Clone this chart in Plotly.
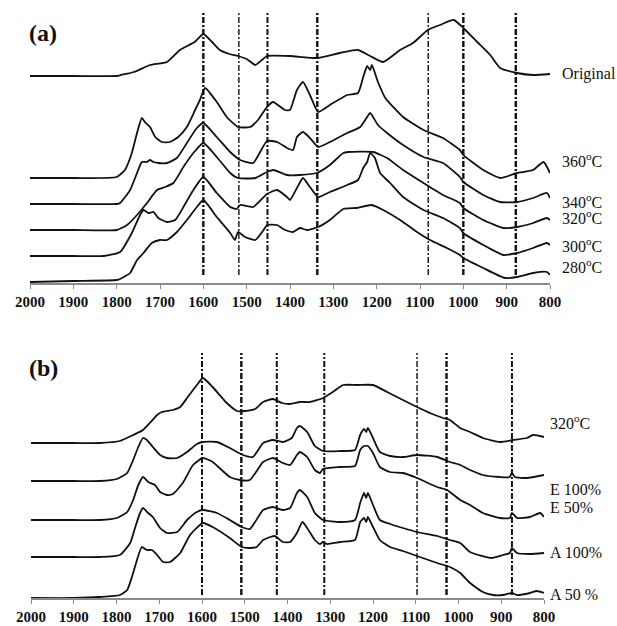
import plotly.graph_objects as go

# ---------------- data: panel (a) ----------------
W_orig = [2000,1900,1800,1790,1760,1723,1684,1654,1620,1600,1580,1562,1540,1520,1500,1480,1465,1453,1400,1338,1285,1243,1215,1185,1146,1116,1082,1054,1022,1000,968,938,915,876,839,800]
H_orig = [0,0,0,1,4,11,14,26,34,42,34,26,22,20,17,11,16,20,20,18,23,26,20,14,26,33,46,51,56,48,34,21,8,3,1,2]

W_360 = [2000,1900,1800,1781,1765,1753,1742,1735,1723,1711,1696,1677,1658,1638,1619,1608,1596,1569,1546,1520,1492,1474,1453,1439,1412,1400,1384,1370,1354,1335,1308,1268,1243,1231,1222,1215,1211,1197,1180,1139,1092,1047,1008,1000,954,915,876,839,815,800]
H_360 = [0,0,1,8,25,45,60,56,51,41,36,36,41,51,68,78,90,76,61,51,51,58,71,76,68,68,88,96,83,66,73,83,85,101,112,108,113,96,80,61,48,40,28,23,8,0,5,8,16,5]

W_340 = [2000,1900,1800,1792,1769,1753,1742,1730,1723,1715,1704,1684,1661,1638,1615,1600,1569,1538,1515,1485,1453,1430,1407,1393,1384,1370,1354,1335,1308,1268,1238,1222,1215,1197,1176,1139,1092,1047,1008,1000,954,915,876,839,807,800]
H_340 = [0,0,0,1,14,31,42,42,44,42,41,41,46,61,76,81,67,52,44,41,63,62,56,54,67,72,66,57,62,71,77,87,91,79,71,59,47,41,27,22,9,2,2,6,11,6]

W_320 = [2000,1900,1800,1776,1753,1730,1707,1688,1669,1646,1623,1600,1569,1538,1520,1480,1453,1438,1407,1377,1338,1308,1277,1266,1208,1176,1139,1092,1047,1008,1000,954,908,876,839,807,800]
H_320 = [0,0,0,5,15,27,40,43,47,63,77,87,73,57,52,52,58,60,55,55,57,65,77,78,78,72,60,47,35,27,22,10,2,3,7,12,10]

W_300 = [2000,1900,1830,1792,1765,1746,1738,1727,1715,1704,1684,1665,1646,1623,1600,1569,1538,1523,1515,1485,1453,1430,1407,1400,1384,1370,1354,1335,1308,1268,1243,1231,1222,1215,1204,1192,1169,1139,1092,1047,1008,1000,954,908,876,839,807,800]
H_300 = [0,0,0,4,23,41,46,43,44,38,34,36,49,66,79,63,49,47,51,49,62,66,59,56,68,78,69,59,64,71,76,88,94,103,98,83,73,59,46,38,28,23,11,1,3,8,13,11]

W_280 = [2000,1900,1800,1792,1769,1753,1738,1719,1700,1684,1661,1638,1615,1600,1569,1538,1527,1520,1504,1480,1461,1453,1430,1411,1393,1377,1361,1335,1308,1277,1246,1211,1185,1146,1107,1077,1038,1008,1000,954,904,876,839,807,800]
H_280 = [0,1,2,3,9,22,29,39,42,42,50,62,75,82,65,49,42,50,45,42,52,57,57,52,50,54,52,55,62,73,74,77,72,62,50,42,34,27,24,14,4,5,9,10,7]

NAMES_A = ["Original", "360<sup>o</sup>C", "340<sup>o</sup>C", "320<sup>o</sup>C", "300<sup>o</sup>C", "280<sup>o</sup>C"]
OFFSETS_A = [207, 105, 79, 53, 27, 1]
VLINES_A = [1600, 1518, 1452, 1337, 1081, 1000, 879]

# ---------------- data: panel (b) ----------------
W_b320 = [2000,1900,1839,1792,1761,1738,1722,1705,1694,1668,1651,1635,1612,1598,1575,1542,1518,1500,1476,1457,1434,1413,1394,1371,1347,1317,1294,1270,1237,1200,1167,1130,1097,1067,1036,1020,996,973,943,903,873,840,826,800]
H_b320 = [0,0,0,2,8,13,20,28,31,33,36,45,58,65,56,40,32,32,34,41,44,40,39,41,41,45,51,58,58,58,51,43,36,30,25,23,15,11,5,1,3,5,8,6]

W_e100 = [2000,1900,1839,1799,1775,1761,1749,1738,1729,1715,1698,1682,1658,1635,1612,1598,1565,1535,1504,1481,1457,1434,1411,1390,1378,1371,1354,1336,1317,1277,1242,1230,1221,1216,1212,1200,1184,1160,1130,1097,1050,1020,996,973,943,903,880,875,868,840,800]
H_e100 = [0,0,0,2,8,21,34,43,41,34,26,23,23,29,37,39,39,33,26,24,38,41,39,43,53,55,49,35,30,30,31,46,52,49,53,43,29,25,24,26,24,19,16,11,6,4,4,8,4,3,6]

W_e50 = [2000,1900,1839,1799,1775,1761,1749,1738,1726,1710,1698,1682,1668,1645,1621,1598,1575,1535,1511,1488,1457,1434,1411,1394,1378,1371,1354,1336,1324,1317,1277,1242,1230,1221,1212,1200,1184,1160,1130,1097,1050,1027,996,973,943,903,880,875,863,833,809,800]
H_e50 = [0,0,0,2,8,20,35,43,38,35,28,25,26,37,55,62,58,43,40,40,58,62,57,55,65,68,63,50,47,51,53,54,70,74,74,67,53,48,47,42,33,30,20,15,7,2,2,7,2,3,7,3]

W_a100 = [2000,1900,1839,1792,1768,1756,1745,1738,1726,1715,1698,1682,1658,1635,1612,1598,1565,1535,1507,1488,1457,1434,1411,1394,1378,1371,1354,1336,1317,1277,1242,1230,1221,1216,1212,1200,1184,1160,1130,1097,1050,1020,996,973,923,896,880,875,863,833,800]
H_a100 = [0,0,0,2,14,30,44,49,44,40,29,24,25,37,45,47,44,37,30,28,47,50,47,49,64,67,60,44,37,35,37,54,64,59,64,52,37,33,29,25,21,17,14,5,-1,2,4,9,4,3,4]

W_a50 = [2000,1900,1839,1792,1775,1764,1752,1741,1729,1717,1705,1691,1675,1651,1628,1605,1598,1575,1535,1507,1488,1472,1457,1430,1411,1394,1378,1365,1354,1336,1324,1317,1308,1277,1242,1230,1221,1216,1212,1200,1184,1160,1130,1097,1050,1020,996,973,943,919,896,875,863,833,817,800]
H_a50 = [0,0,1,3,8,21,38,51,48,48,43,36,36,45,63,73,75,71,60,51,50,51,58,62,56,56,65,76,70,58,54,56,54,56,58,76,80,76,81,71,58,51,47,42,35,31,25,15,6,3,3,5,3,5,7,5]

NAMES_B = ["320<sup>o</sup>C", "E 100%", "E 50%", "A 100%", "A 50 %"]
OFFSETS_B = [155, 117, 78, 41, 0]
VLINES_B = [1600, 1508, 1425, 1314, 1097, 1028, 875]

TICKS = [2000, 1900, 1800, 1700, 1600, 1500, 1400, 1300, 1200, 1100, 1000, 900, 800]

# ---------------- styling ----------------
W, H = 617, 626
SERIF = "Liberation Serif, Times New Roman, serif"
CURVE = dict(color="#111111", width=1.8, shape="spline", smoothing=0.5)
VL_WIDTH_A = [2.4, 1.4, 2.0, 2.4, 1.4, 2.4, 2.4]
VL_WIDTH_B = [2.0, 2.4, 2.0, 2.0, 1.4, 2.4, 2.0]
DASH = "6px,2px,2px,2px"
VL_SPAN_A = (8, 271)
VL_SPAN_B = (3, 245)
LABEL_Y_A = [209, 123, 82, 66, 38, 17]
LABEL_Y_B = [176, 108, 90, 46, 4]

fig = go.Figure()

def add_curves(ws, hs, offs, xa, ya):
    for w_, h_, o in zip(ws, hs, offs):
        fig.add_trace(go.Scatter(x=w_, y=[v + o for v in h_], mode="lines",
                                 line=CURVE, xaxis=xa, yaxis=ya,
                                 showlegend=False, hoverinfo="skip"))

def add_vlines(vs, widths, span, xa, ya):
    for v, wd in zip(vs, widths):
        fig.add_trace(go.Scatter(x=[v, v], y=list(span), mode="lines",
                                 line=dict(color="#111111", width=wd, dash=DASH),
                                 xaxis=xa, yaxis=ya, showlegend=False, hoverinfo="skip"))

add_vlines(VLINES_A, VL_WIDTH_A, VL_SPAN_A, "x", "y")
add_vlines(VLINES_B, VL_WIDTH_B, VL_SPAN_B, "x2", "y2")
add_curves([W_orig, W_360, W_340, W_320, W_300, W_280],
           [H_orig, H_360, H_340, H_320, H_300, H_280], OFFSETS_A, "x", "y")
add_curves([W_b320, W_e100, W_e50, W_a100, W_a50],
           [H_b320, H_e100, H_e50, H_a100, H_a50], OFFSETS_B, "x2", "y2")

main_x = dict(range=[2000, 800], autorange=False, automargin=False,
              showline=True, linecolor="#8a8a8a", linewidth=1.5,
              ticks="outside", ticklen=4, tickwidth=1.2, tickcolor="#8a8a8a",
              tickvals=TICKS, ticktext=[str(t) for t in TICKS], showticklabels=True,
              ticklabelstandoff=0, showgrid=False, zeroline=False,
              tickfont=dict(family=SERIF, size=15, color="#111111", weight="bold"))
hid_y = dict(visible=False, autorange=False, automargin=False, showgrid=False, zeroline=False)

fig.update_layout(
    width=W, height=H, margin=dict(l=0, r=0, t=0, b=0),
    paper_bgcolor="white", plot_bgcolor="white",
    xaxis=dict(main_x, domain=[30 / W, 550 / W], anchor="y"),
    yaxis=dict(hid_y, domain=[1 - 283 / H, 1 - 5 / H], range=[0, 278], anchor="x"),
    xaxis2=dict(main_x, domain=[31 / W, 544 / W], anchor="y2"),
    yaxis2=dict(hid_y, domain=[1 - 598 / H, 1 - 340 / H], range=[0, 258], anchor="x2"),
)

anns = []
for name, yy in zip(NAMES_A, LABEL_Y_A):
    anns.append(dict(text=name, x=560 / W, xref="paper", xanchor="left",
                     y=yy, yref="y", yanchor="middle", showarrow=False,
                     font=dict(family=SERIF, size=16, color="#111111")))
for name, yy in zip(NAMES_B, LABEL_Y_B):
    anns.append(dict(text=name, x=548 / W, xref="paper", xanchor="left",
                     y=yy, yref="y2", yanchor="middle", showarrow=False,
                     font=dict(family=SERIF, size=16, color="#111111")))
anns.append(dict(text="<b>(a)</b>", x=27 / W, y=1 - 33 / H, xref="paper", yref="paper",
                 xanchor="left", yanchor="middle", showarrow=False,
                 font=dict(family=SERIF, size=24, color="#111111")))
anns.append(dict(text="<b>(b)</b>", x=27 / W, y=1 - 368 / H, xref="paper", yref="paper",
                 xanchor="left", yanchor="middle", showarrow=False,
                 font=dict(family=SERIF, size=24, color="#111111")))
fig.update_layout(annotations=anns)

fig.write_html("out.html")
